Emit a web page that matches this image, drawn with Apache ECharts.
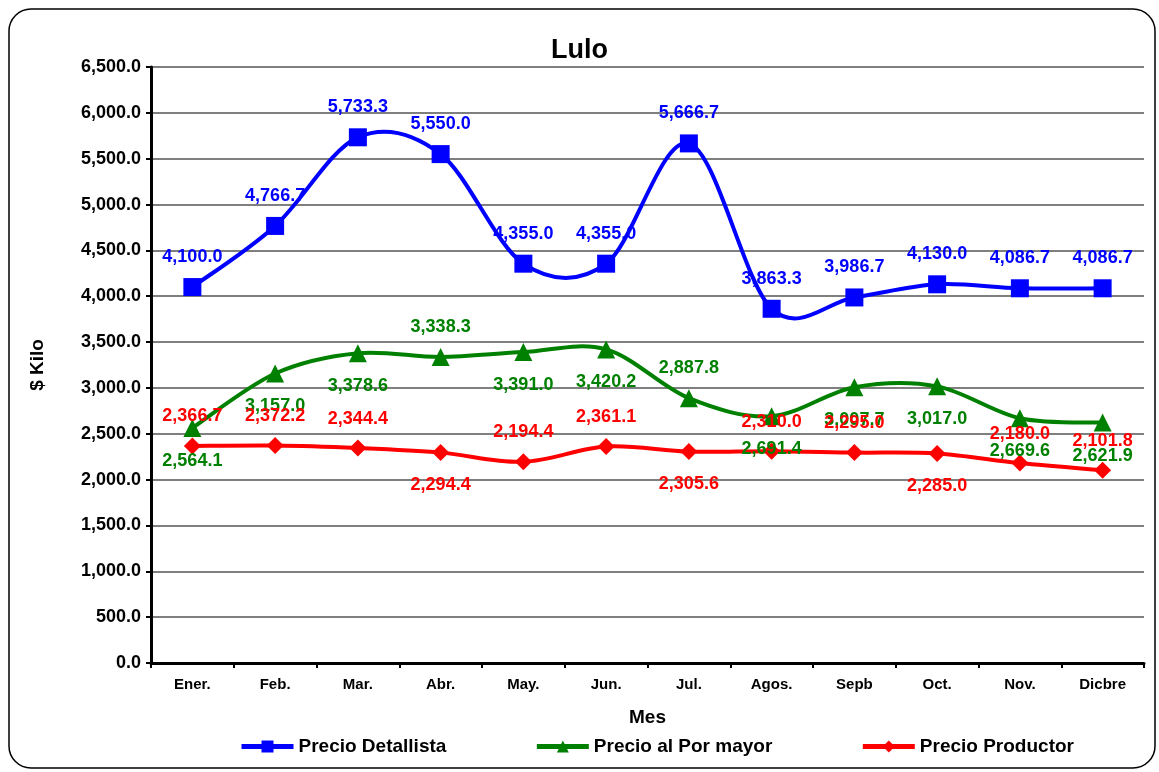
<!DOCTYPE html>
<html>
<head>
<meta charset="utf-8">
<title>Lulo</title>
<script src="https://cdn.jsdelivr.net/npm/echarts@6/dist/echarts.min.js"></script>
<style>
  html, body { margin: 0; padding: 0; background: #fff; }
  #chart { width: 1159px; height: 772px; }
</style>
</head>
<body>
<div id="chart"></div>
<script>
// Monthly prices per kilo for lulo
const months = ['Ener.', 'Feb.', 'Mar.', 'Abr.', 'May.', 'Jun.', 'Jul.', 'Agos.', 'Sepb', 'Oct.', 'Nov.', 'Dicbre'];
const retailPrice = [4100.0, 4766.7, 5733.3, 5550.0, 4355.0, 4355.0, 5666.7, 3863.3, 3986.7, 4130.0, 4086.7, 4086.7];
const wholesalePrice = [2564.1, 3157.0, 3378.6, 3338.3, 3391.0, 3420.2, 2887.8, 2691.4, 3007.7, 3017.0, 2669.6, 2621.9];
const producerPrice = [2366.7, 2372.2, 2344.4, 2294.4, 2194.4, 2361.1, 2305.6, 2310.0, 2295.0, 2285.0, 2180.0, 2101.8];
const yTicks = [0, 500, 1000, 1500, 2000, 2500, 3000, 3500, 4000, 4500, 5000, 5500, 6000, 6500];

// Which side of each point its value label sits on
const retailLabelSide = ['top', 'top', 'top', 'top', 'top', 'top', 'top', 'top', 'top', 'top', 'top', 'top'];
const wholesaleLabelSide = ['bottom', 'bottom', 'bottom', 'top', 'bottom', 'bottom', 'top', 'bottom', 'bottom', 'bottom', 'bottom', 'bottom'];
const producerLabelSide = ['top', 'top', 'top', 'bottom', 'top', 'top', 'bottom', 'top', 'top', 'bottom', 'top', 'top'];

const FONT = '"Liberation Sans", Arial, sans-serif';
const fmt = v => v.toLocaleString('en-US', { minimumFractionDigits: 1, maximumFractionDigits: 1 });

function buildData(values, sides) {
  return values.map((v, i) => ({
    value: v,
    label: {
      position: sides[i],
      distance: sides[i] === 'top' ? 12 : 15
    }
  }));
}

// Markers and value labels; the connecting curve is drawn by curveSeries
function markerSeries(name, values, sides, color, symbol, size) {
  return {
    name: name,
    type: 'line',
    z: 4,
    data: buildData(values, sides),
    symbol: symbol,
    symbolSize: size,
    lineStyle: { color: color, width: 4, opacity: 0 },
    itemStyle: { color: color },
    label: {
      show: true,
      color: color,
      fontFamily: FONT,
      fontWeight: 'bold',
      fontSize: 18,
      formatter: p => fmt(p.value)
    },
    emphasis: { disabled: true },
    animation: false
  };
}

// Cardinal (Catmull-Rom) spline through the points, one bezier piece per segment,
// which lets the curve swing past the points the way spreadsheet smoothing does
function curveSeries(values, color) {
  return {
    type: 'custom',
    z: 3,
    silent: true,
    data: values.map((v, i) => [i, v]),
    encode: { x: 0, y: 1 },
    renderItem: function (params, api) {
      const i = params.dataIndex;
      const n = values.length;
      if (i >= n - 1) return null;
      const pt = k => api.coord([Math.max(0, Math.min(n - 1, k)), values[Math.max(0, Math.min(n - 1, k))]]);
      const p0 = pt(i - 1), p1 = pt(i), p2 = pt(i + 1), p3 = pt(i + 2);
      return {
        type: 'bezierCurve',
        shape: {
          x1: p1[0], y1: p1[1],
          x2: p2[0], y2: p2[1],
          cpx1: p1[0] + (p2[0] - p0[0]) / 6,
          cpy1: p1[1] + (p2[1] - p0[1]) / 6,
          cpx2: p2[0] - (p3[0] - p1[0]) / 6,
          cpy2: p2[1] - (p3[1] - p1[1]) / 6
        },
        style: { stroke: color, lineWidth: 4, fill: null, lineCap: 'round' }
      };
    },
    animation: false
  };
}

const chart = echarts.init(document.getElementById('chart'), null, { renderer: 'canvas' });

chart.setOption({
  backgroundColor: '#ffffff',
  animation: false,
  graphic: [{
    type: 'rect',
    shape: { x: 9, y: 9, width: 1146, height: 759, r: 22 },
    style: { fill: 'none', stroke: '#000', lineWidth: 1.5 },
    silent: true,
    z: -1
  }],
  title: {
    text: 'Lulo',
    left: 'center',
    top: 32,
    textStyle: { fontFamily: FONT, fontWeight: 'bold', fontSize: 27, color: '#000' }
  },
  legend: {
    top: 732,
    left: 234,
    itemWidth: 52,
    itemHeight: 15,
    itemGap: 88,
    lineStyle: { opacity: 1, width: 5 },
    textStyle: { fontFamily: FONT, fontWeight: 'bold', fontSize: 19, color: '#000' },
    data: ['Precio Detallista', 'Precio al Por mayor', 'Precio Productor']
  },
  grid: { left: 151, right: 15, top: 67, bottom: 109, containLabel: false },
  xAxis: {
    type: 'category',
    data: months,
    boundaryGap: true,
    name: 'Mes',
    nameLocation: 'middle',
    nameGap: 45,
    nameTextStyle: { fontFamily: FONT, fontWeight: 'bold', fontSize: 19, color: '#000' },
    axisLine: { lineStyle: { color: '#000', width: 3 } },
    axisTick: { show: true, alignWithLabel: false, length: 5, lineStyle: { color: '#000', width: 2 } },
    axisLabel: { fontFamily: FONT, fontWeight: 'bold', fontSize: 15, color: '#000', margin: 14 },
    splitLine: { show: false }
  },
  yAxis: {
    type: 'value',
    min: yTicks[0],
    max: yTicks[yTicks.length - 1],
    interval: yTicks[1] - yTicks[0],
    name: '$ Kilo',
    nameLocation: 'middle',
    nameGap: 104,
    nameRotate: 90,
    nameTextStyle: { fontFamily: FONT, fontWeight: 'bold', fontSize: 19, color: '#000' },
    axisLine: { show: true, lineStyle: { color: '#000', width: 3 } },
    axisTick: { show: true, length: 5, lineStyle: { color: '#000', width: 2 } },
    axisLabel: { fontFamily: FONT, fontWeight: 'bold', fontSize: 18, color: '#000', margin: 10, formatter: v => fmt(v) },
    splitLine: { show: true, lineStyle: { color: '#555', width: 1.5 } }
  },
  series: [
    markerSeries('Precio Detallista', retailPrice, retailLabelSide, '#0000ff', 'rect', 18),
    markerSeries('Precio al Por mayor', wholesalePrice, wholesaleLabelSide, '#008000', 'triangle', 18),
    markerSeries('Precio Productor', producerPrice, producerLabelSide, '#ff0000', 'diamond', 17),
    curveSeries(retailPrice, '#0000ff'),
    curveSeries(wholesalePrice, '#008000'),
    curveSeries(producerPrice, '#ff0000')
  ]
});
</script>
</body>
</html>
